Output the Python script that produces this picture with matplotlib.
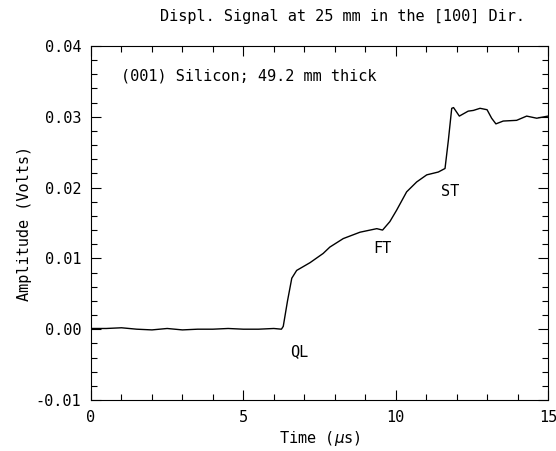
import matplotlib
matplotlib.use("Agg")
import matplotlib.pyplot as plt
from matplotlib.ticker import MultipleLocator, FormatStrFormatter

# waveform (time in us, amplitude in volts)
time_us = [0.0, 0.5, 1.0, 1.5, 2.0, 2.5, 3.0, 3.5, 4.0, 4.5, 5.0, 5.5, 6.0, 6.25,
           6.31, 6.45, 6.59, 6.75, 7.19, 7.62, 7.84, 8.28, 8.83, 9.38, 9.57,
           9.81, 10.03, 10.36, 10.69, 11.02, 11.40, 11.62, 11.73, 11.84, 11.90,
           12.09, 12.38, 12.55, 12.77, 13.00, 13.15, 13.29, 13.53, 13.97, 14.30,
           14.63, 15.0]
amplitude = [0.0001, 0.0001, 0.0002, 0.0000, -0.0001, 0.0001, -0.0001, 0.0000,
             0.0000, 0.0001, 0.0000, 0.0000, 0.0001, 0.0000,
             0.0004, 0.0040, 0.0072, 0.0083, 0.0094, 0.0107, 0.0116, 0.0128,
             0.0137, 0.0142, 0.0140, 0.0152, 0.0168, 0.0194, 0.0208, 0.0218,
             0.0222, 0.0227, 0.0267, 0.0312, 0.0313, 0.0301, 0.0308, 0.0309,
             0.0312, 0.0310, 0.0298, 0.0290, 0.0294, 0.0295, 0.0301, 0.0298,
             0.0301]

# wave arrival labels
wave_names = ["QL", "FT", "ST"]
wave_t = [6.85, 9.55, 11.8]
wave_v = [-0.0032, 0.0114, 0.0194]

# the original uses a wide, evenly spaced plotter font
plt.rcParams["font.family"] = "DejaVu Sans Mono"
FS = 11

fig = plt.figure(figsize=(5.56, 4.51), dpi=100)
ax = fig.add_axes([0.1637, 0.1131, 0.8219, 0.7849])

ax.plot(time_us, amplitude, color="black", linewidth=1.0)

for name, t, v in zip(wave_names, wave_t, wave_v):
    ax.text(t, v, name, ha="center", va="center", fontsize=FS)

ax.text(1.0, 0.0358, "(001) Silicon; 49.2 mm thick", fontsize=FS, va="center")

ax.set_xlim(0, 15)
ax.set_ylim(-0.01, 0.04)
ax.xaxis.set_major_locator(MultipleLocator(5))
ax.xaxis.set_minor_locator(MultipleLocator(1))
ax.yaxis.set_major_locator(MultipleLocator(0.01))
ax.yaxis.set_minor_locator(MultipleLocator(0.002))
ax.yaxis.set_major_formatter(FormatStrFormatter("%.2f"))
ax.tick_params(which="both", direction="in", top=True, right=True, labelsize=FS)
ax.tick_params(which="major", length=7, width=0.8, pad=7)
ax.tick_params(which="minor", length=4, width=0.8)
for s in ax.spines.values():
    s.set_linewidth(0.8)

fig.text(342 / 556, 1 - 17 / 451, "Displ. Signal at 25 mm in the [100] Dir.",
         fontsize=FS, ha="center", va="center")
ax.set_xlabel("Time ($\\mu$s)", fontsize=FS, labelpad=3)
ax.set_ylabel("Amplitude (Volts)", fontsize=FS, labelpad=3)

fig.savefig("out.png", dpi=100)
